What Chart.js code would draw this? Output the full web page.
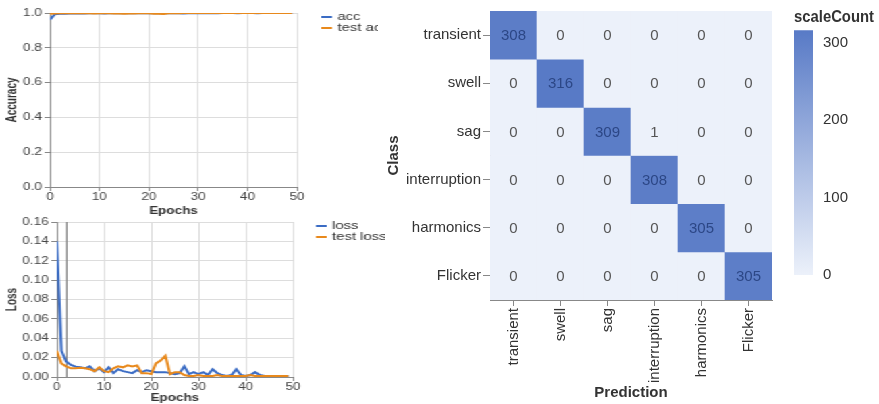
<!DOCTYPE html>
<html>
<head>
<meta charset="utf-8">
<script src="https://cdn.jsdelivr.net/npm/chart.js@4.4.0/dist/chart.umd.min.js"></script>
<style>
  html, body { margin: 0; padding: 0; background: #fff; }
  body { width: 879px; height: 404px; position: relative; overflow: hidden; }
  #left { position: absolute; left: 0; top: 0; width: 289px; height: 404px; transform: scaleX(1.35); transform-origin: 0 0; }
  canvas { position: absolute; }
  #accChart { left: 0; top: 0; }
  #lossChart { left: 0; top: 210px; }
  #cmChart { left: 385px; top: 0; }
  #scaleChart { left: 785px; top: 0; }
</style>
</head>
<body>
<div id="left">
  <canvas id="accChart" width="280" height="218"></canvas>
  <canvas id="lossChart" width="285" height="194"></canvas>
</div>
<canvas id="cmChart" width="400" height="404"></canvas>
<canvas id="scaleChart" width="89" height="404"></canvas>
<script>
// training curves, one value per epoch (0..49)
const accVals = [0.962, 0.993, 0.995, 0.996, 0.997, 0.997, 0.998, 0.997, 0.998, 0.998,
  0.998, 0.997, 0.999, 0.998, 0.998, 0.999, 0.999, 0.998, 0.999, 0.998,
  0.999, 0.999, 0.999, 0.999, 0.999, 0.999, 0.999, 0.997, 0.999, 0.999,
  0.999, 0.999, 0.999, 0.998, 0.999, 1.0, 1.0, 1.0, 0.998, 1.0,
  1.0, 1.0, 0.999, 1.0, 1.0, 1.0, 1.0, 1.0, 1.0, 1.0];
const testAccVals = [0.995, 0.997, 0.998, 0.998, 0.998, 0.998, 0.998, 0.998, 0.999, 0.997,
  0.998, 0.999, 0.998, 0.997, 0.997, 0.996, 0.997, 0.997, 0.999, 0.999,
  0.999, 0.996, 0.995, 0.994, 0.999, 0.999, 0.999, 1.0, 1.0, 1.0,
  1.0, 1.0, 1.0, 1.0, 1.0, 1.0, 1.0, 1.0, 1.0, 1.0,
  1.0, 1.0, 1.0, 1.0, 1.0, 1.0, 1.0, 1.0, 1.0, 1.0];
const lossVals = [0.140, 0.027, 0.016, 0.0125, 0.0107, 0.010, 0.009, 0.011, 0.006, 0.009,
  0.005, 0.010, 0.004, 0.008, 0.006, 0.005, 0.004, 0.007, 0.005, 0.007,
  0.006, 0.005, 0.005, 0.005, 0.004, 0.003, 0.004, 0.011, 0.003, 0.005,
  0.003, 0.005, 0.002, 0.008, 0.004, 0.002, 0.001, 0.002, 0.008, 0.002,
  0.001, 0.002, 0.005, 0.002, 0.001, 0.001, 0.001, 0.001, 0.001, 0.001];
const testLossVals = [0.027, 0.014, 0.011, 0.009, 0.009, 0.0095, 0.009, 0.008, 0.006, 0.010,
  0.006, 0.005, 0.009, 0.011, 0.010, 0.012, 0.011, 0.012, 0.004, 0.004,
  0.003, 0.014, 0.017, 0.022, 0.003, 0.005, 0.005, 0.002, 0.001, 0.001,
  0.002, 0.001, 0.001, 0.001, 0.002, 0.001, 0.001, 0.001, 0.001, 0.001,
  0.001, 0.002, 0.001, 0.001, 0.001, 0.001, 0.001, 0.001, 0.001, 0.001];
const lossRuleEpoch = 2;

const epochTicks = [0, 10, 20, 30, 40, 50];
const accTicks = [0, 0.2, 0.4, 0.6, 0.8, 1.0];
const lossTicks = [0, 0.02, 0.04, 0.06, 0.08, 0.10, 0.12, 0.14, 0.16];

// confusion matrix
const classLabels = ['transient', 'swell', 'sag', 'interruption', 'harmonics', 'Flicker'];
const predLabels = ['transient', 'swell', 'sag', 'interruption', 'harmonics', 'Flicker'];
const counts = [
  [308, 0, 0, 0, 0, 0],
  [0, 316, 0, 0, 0, 0],
  [0, 0, 309, 1, 0, 0],
  [0, 0, 0, 308, 0, 0],
  [0, 0, 0, 0, 305, 0],
  [0, 0, 0, 0, 0, 305]
];
const scaleTicks = [0, 100, 200, 300];

const BLUE = '#3b6cc4';
const ORANGE = '#e8891c';
const lowColor = [236, 241, 250];
const highColor = [88, 122, 198];
const maxCount = Math.max(...counts.flat());

Chart.defaults.font.family = '"Liberation Sans", Arial, sans-serif';
Chart.defaults.color = '#444';

function mix(t) {
  const c = lowColor.map((l, k) => Math.round(l + (highColor[k] - l) * t));
  return `rgb(${c[0]},${c[1]},${c[2]})`;
}
function cellColor(v) { return mix(v / maxCount); }
function pts(vals) { return vals.map((v, i) => ({ x: i, y: v })); }

// legend drawn to the right of the plot, like the vega one
const sideLegend = {
  id: 'sideLegend',
  afterDraw(chart, args, opts) {
    const ctx = chart.ctx;
    const x0 = chart.chartArea.right + opts.offset;
    let y = opts.top;
    ctx.save();
    ctx.font = '11px "Liberation Sans", Arial, sans-serif';
    ctx.textBaseline = 'middle';
    chart.data.datasets.forEach(ds => {
      ctx.strokeStyle = ds.borderColor;
      ctx.lineWidth = 2;
      ctx.beginPath();
      ctx.moveTo(x0, y);
      ctx.lineTo(x0 + 8, y);
      ctx.stroke();
      ctx.fillStyle = '#333';
      ctx.fillText(ds.label, x0 + 12, y);
      y += opts.step;
    });
    ctx.restore();
  }
};

// vertical rule at a given epoch (loss chart)
const ruleLine = {
  id: 'ruleLine',
  beforeDatasetsDraw(chart, args, opts) {
    if (opts.value == null) return;
    const x = Math.round(chart.scales.x.getPixelForValue(opts.value)) + 0.5;
    const { top, bottom } = chart.chartArea;
    const ctx = chart.ctx;
    ctx.save();
    ctx.strokeStyle = '#8a8a8a';
    ctx.lineWidth = 1;
    ctx.beginPath();
    ctx.moveTo(x, top);
    ctx.lineTo(x, bottom);
    ctx.stroke();
    ctx.restore();
  }
};

function lineOpts(cfg) {
  return {
    responsive: false,
    animation: false,
    devicePixelRatio: 1,
    layout: { padding: cfg.padding },
    plugins: {
      legend: { display: false },
      tooltip: { enabled: false },
      sideLegend: cfg.legend,
      ruleLine: { value: cfg.rule }
    },
    elements: { point: { radius: 0 }, line: { tension: 0, borderWidth: 2 } },
    scales: {
      x: {
        type: 'linear', min: 0, max: 50,
        afterBuildTicks: s => { s.ticks = epochTicks.map(v => ({ value: v })); },
        grid: { color: '#dddddd', tickColor: '#888', tickLength: 4 },
        border: { color: '#888' },
        ticks: { padding: 0, font: { size: 10 } },
        title: { display: true, text: 'Epochs', color: '#333', font: { size: 10, weight: 'bold' }, padding: { top: 0, bottom: cfg.titlePad } },
        afterFit: s => { s.height = cfg.xHeight; }
      },
      y: {
        min: 0, max: cfg.yTicks[cfg.yTicks.length - 1],
        afterBuildTicks: s => { s.ticks = cfg.yTicks.map(v => ({ value: v })); },
        grid: { color: '#dddddd', tickColor: '#888', tickLength: 4 },
        border: { color: '#888' },
        ticks: { padding: 2, font: { size: 10 }, callback: v => v.toFixed(cfg.decimals) },
        title: { display: true, text: cfg.yTitle, color: '#333', font: { size: 10, weight: 'bold' }, padding: { top: 3, bottom: 0 } },
        afterFit: s => { s.width = cfg.yWidth; }
      }
    }
  };
}

new Chart(document.getElementById('accChart'), {
  type: 'line',
  data: {
    datasets: [
      { label: 'acc', data: pts(accVals), borderColor: BLUE, order: 1 },
      { label: 'test acc', data: pts(testAccVals), borderColor: ORANGE, order: 0 }
    ]
  },
  options: lineOpts({
    padding: { top: 13, right: 60, left: 0, bottom: 1 },
    legend: { offset: 18, top: 17, step: 11 },
    xHeight: 30, titlePad: 0, yWidth: 37,
    yTicks: accTicks, decimals: 1, yTitle: 'Accuracy', rule: null
  }),
  plugins: [sideLegend, ruleLine]
});

new Chart(document.getElementById('lossChart'), {
  type: 'line',
  data: {
    datasets: [
      { label: 'loss', data: pts(lossVals), borderColor: BLUE, order: 1 },
      { label: 'test loss', data: pts(testLossVals), borderColor: ORANGE, order: 0 }
    ]
  },
  options: lineOpts({
    padding: { top: 12, right: 68, left: 0, bottom: 0 },
    legend: { offset: 17, top: 16, step: 11 },
    xHeight: 27, titlePad: 0, yWidth: 42,
    yTicks: lossTicks, decimals: 2, yTitle: 'Loss', rule: lossRuleEpoch
  }),
  plugins: [sideLegend, ruleLine]
});

// numbers inside the confusion matrix cells
const cellLabels = {
  id: 'cellLabels',
  afterDatasetsDraw(chart) {
    const ctx = chart.ctx;
    ctx.save();
    ctx.font = '15px "Liberation Sans", Arial, sans-serif';
    ctx.textAlign = 'center';
    ctx.textBaseline = 'middle';
    chart.data.datasets.forEach((ds, i) => {
      chart.getDatasetMeta(i).data.forEach((bar, j) => {
        const v = counts[i][j];
        ctx.fillStyle = v > maxCount / 2 ? '#2c4786' : '#555';
        ctx.fillText(String(v), bar.x, (bar.y + bar.base) / 2 + 1);
      });
    });
    ctx.restore();
  }
};

new Chart(document.getElementById('cmChart'), {
  type: 'bar',
  data: {
    labels: predLabels,
    datasets: classLabels.map((c, i) => ({
      label: c,
      data: predLabels.map(() => [i - 0.5, i + 0.5]),
      backgroundColor: counts[i].map(cellColor),
      grouped: false,
      barPercentage: 1,
      categoryPercentage: 1,
      borderWidth: 0
    }))
  },
  options: {
    responsive: false,
    animation: false,
    layout: { padding: { top: 9, right: 13, left: 0, bottom: 0 } },
    plugins: { legend: { display: false }, tooltip: { enabled: false } },
    scales: {
      x: {
        z: 1,
        grid: { display: true, drawOnChartArea: false, offset: false, tickLength: 6, tickColor: '#888' },
        border: { color: '#888' },
        ticks: { minRotation: 90, maxRotation: 90, padding: 2, color: '#333', font: { size: 15 } },
        title: { display: true, text: 'Prediction', color: '#333', font: { size: 15, weight: 'bold' }, padding: { top: 0, bottom: 2 } },
        afterFit: s => { s.height = 104; }
      },
      y: {
        z: 1,
        min: -0.5, max: classLabels.length - 0.5, reverse: true,
        afterBuildTicks: s => { s.ticks = classLabels.map((c, i) => ({ value: i })); },
        grid: { display: true, drawOnChartArea: false, tickLength: 7, tickColor: '#888' },
        border: { color: '#888' },
        ticks: { padding: 2, color: '#333', font: { size: 15 }, callback: v => classLabels[v] },
        title: { display: true, text: 'Class', color: '#333', font: { size: 15, weight: 'bold' }, padding: { top: 0, bottom: 0 } },
        afterFit: s => { s.width = 105; }
      }
    }
  },
  plugins: [cellLabels]
});

// colour legend
new Chart(document.getElementById('scaleChart'), {
  type: 'bar',
  data: {
    labels: [''],
    datasets: [{
      data: [[0, maxCount]],
      barPercentage: 1,
      categoryPercentage: 1,
      borderWidth: 0,
      backgroundColor: ctx => {
        const area = ctx.chart.chartArea;
        if (!area) return mix(0.5);
        const g = ctx.chart.ctx.createLinearGradient(0, area.bottom, 0, area.top);
        g.addColorStop(0, mix(0));
        g.addColorStop(1, mix(1));
        return g;
      }
    }]
  },
  options: {
    responsive: false,
    animation: false,
    layout: { padding: { left: 9, top: 0, right: 0, bottom: 129 } },
    plugins: {
      legend: { display: false },
      tooltip: { enabled: false },
      title: { display: true, text: 'scaleCount', align: 'start', color: '#333', font: { size: 16, weight: 'bold' }, padding: { top: 8, bottom: 3 } }
    },
    scales: {
      x: { display: false },
      y: {
        position: 'right', min: 0, max: maxCount,
        afterBuildTicks: s => { s.ticks = scaleTicks.map(v => ({ value: v })); },
        grid: { display: false },
        border: { display: false },
        ticks: { padding: 2, color: '#333', font: { size: 15 } },
        afterFit: s => { s.width = 61; }
      }
    }
  }
});
</script>
</body>
</html>
